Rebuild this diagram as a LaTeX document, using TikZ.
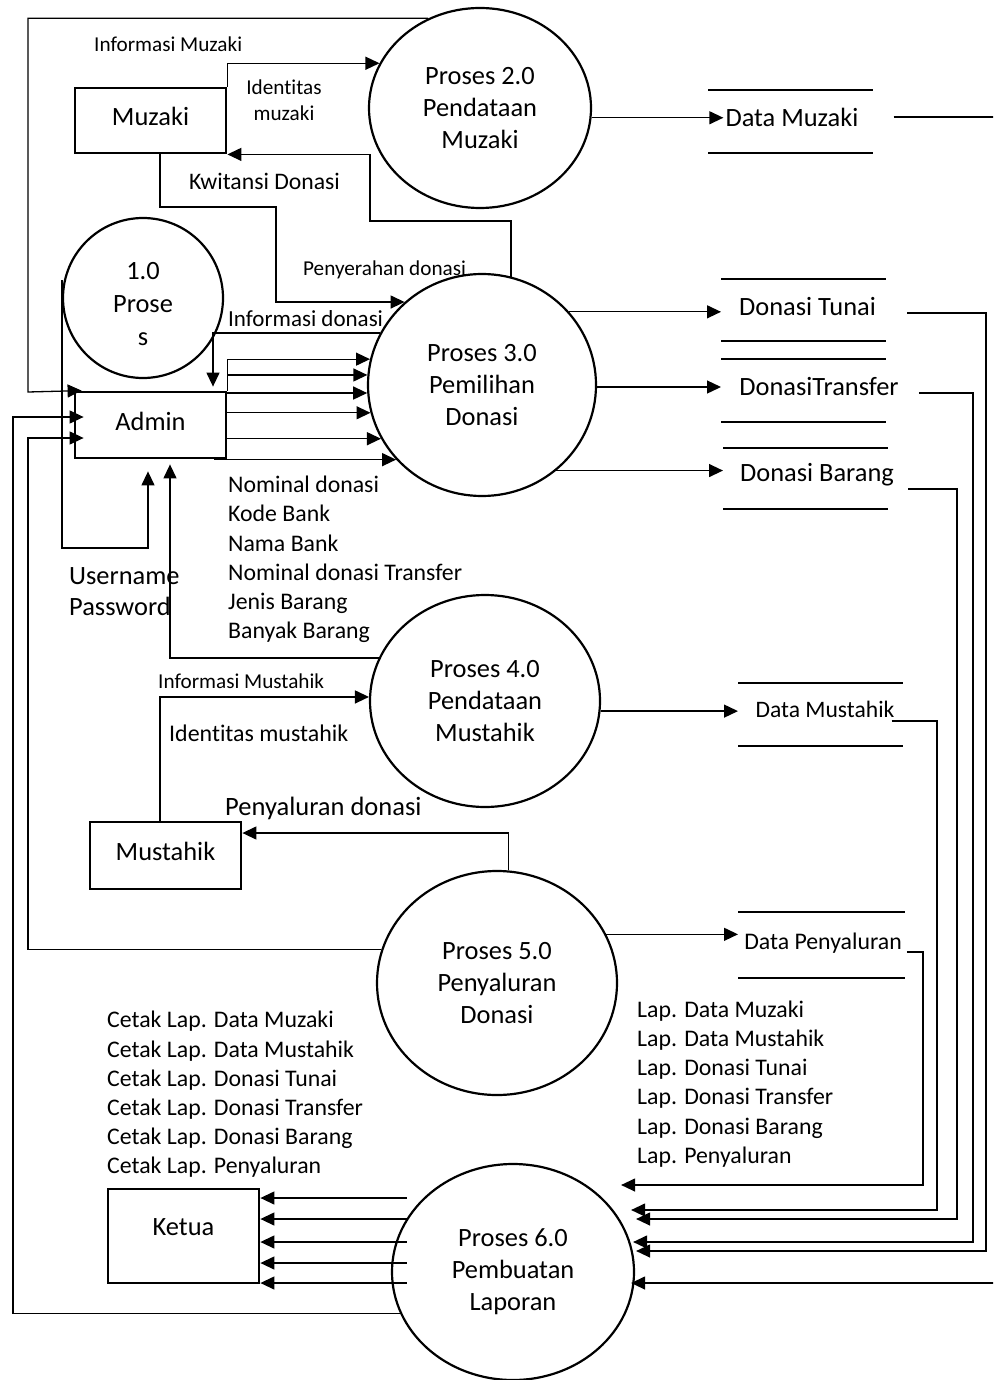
\documentclass[tikz,border=0pt]{standalone}
\usepackage{fontspec}
\setmainfont{Carlito}[Ligatures={NoCommon}]
\usetikzlibrary{shapes.geometric,arrows.meta}
\newcommand\myfs[2]{\fontsize{#1}{#2}\selectfont}
\begin{document}
\begin{tikzpicture}[x=1pt,y=-1pt,
  proc/.style={ellipse, draw, line width=2.2pt, inner sep=0pt, align=center, font=\myfs{26.4}{32}},
  ent/.style={rectangle, draw, line width=2.8pt, minimum width=151pt, inner sep=0pt, text height=18pt, text depth=8pt, font=\myfs{26.4}{32}},
  store/.style={draw=none, minimum width=165pt, minimum height=63pt, inner sep=0pt, outer sep=0pt},
  stxt/.style={inner sep=2pt, font=\myfs{26.4}{32}},
  sline/.style={line width=1.3pt},
  flow/.style={line width=1.3pt, -{Triangle[length=14pt,width=13pt]}},
  lbl/.style={inner sep=0pt, anchor=west, align=left}
]
\useasboundingbox (0,0) rectangle (993,1380);
\clip (0,0) rectangle (993,1380);

% processes
\node[proc, minimum width=222pt, minimum height=200pt] (p2) at (480,108) {Proses 2.0\\Pendataan\\Muzaki};
\node[proc, minimum width=160pt, minimum height=160pt] (p1) at (143,298) {};
\node[inner sep=0pt, align=center, font=\myfs{26.4}{33}] (p1t) at (143,304) {1.0\\Prose\\s};
\node[proc, minimum width=228pt, minimum height=222pt] (p3) at (482,385) {Proses 3.0\\Pemilihan\\Donasi};
\node[proc, minimum width=230pt, minimum height=212pt] (p4) at (485,701) {Proses 4.0\\Pendataan\\Mustahik};
\node[proc, minimum width=240pt, minimum height=224pt] (p5) at (497,983) {Proses 5.0\\Penyaluran\\Donasi};
\node[proc, minimum width=242pt, minimum height=216pt] (p6) at (513,1272) {Proses 6.0\\Pembuatan\\Laporan};

% entities
\node[ent, minimum height=65pt] (muzaki) at (150.5,120.5) {Muzaki};
\node[ent, minimum height=66pt] (admin) at (150.5,425) {Admin};
\node[ent, minimum height=67pt] (mustahik) at (165.5,855.5) {Mustahik};
\node[ent, minimum height=94pt, text depth=20pt] (ketua) at (183.5,1236) {Ketua};

% data stores
\node[store] (dmz) at (790.5,121.5) {};
\node[stxt] (dmzt) at (792,117) {Data Muzaki};
\node[store, minimum height=62pt] (dtu) at (803.5,310) {};
\node[stxt] (dtut) at (807.5,307) {Donasi Tunai};
\node[store] (dtr) at (803.5,390.5) {};
\node[stxt] (dtrt) at (819,387) {DonasiTransfer};
\node[store, minimum height=61pt] (dba) at (805.5,478.5) {};
\node[stxt] (dbat) at (817,475) {Donasi Barang};
\node[store] (dmu) at (820.5,714.5) {};
\node[stxt, font=\myfs{23.6}{29}] (dmut) at (825,709) {Data Mustahik};
\node[store, minimum width=167pt, minimum height=66pt] (dpe) at (821.5,945) {};
\node[stxt, font=\myfs{23.8}{29}] (dpet) at (823,943) {Data Penyaluran};
\foreach \s in {dmz,dtu,dtr,dba,dmu,dpe}
  \draw[sline] (\s.north west) -- (\s.north east) (\s.south west) -- (\s.south east);

% labels
\node[lbl, font=\myfs{21.2}{26}] (linfmz) at (94,44) {Informasi Muzaki};
\node[lbl, font=\myfs{21.2}{26}, align=center, anchor=center] (lidmz) at (284,100) {Identitas\\muzaki};
\node[lbl, font=\myfs{23.7}{29}] (lkwit) at (189,181) {Kwitansi Donasi};
\node[lbl, font=\myfs{21.2}{26}] (lpeny) at (303,270) {Penyerahan donasi};
\node[lbl, font=\myfs{23}{28}] (linfdon) at (228,319) {Informasi donasi};
\node[lbl, font=\myfs{23.8}{29.2}] (lnom) at (228,559.5) {Nominal donasi\\Kode Bank\\Nama Bank\\Nominal donasi Transfer\\Jenis Barang\\Banyak Barang};
\node[lbl, font=\myfs{26.4}{31}] (luser) at (69,591.5) {Username\\Password};
\node[lbl, font=\myfs{21.2}{26}] (linfmu) at (158,681) {Informasi Mustahik};
\node[lbl, font=\myfs{23.9}{29}] (lidmu) at (169,733) {Identitas mustahik};
\node[lbl, font=\myfs{26.5}{32}] (lsal) at (225,808) {Penyaluran donasi};
\node[lbl, font=\myfs{23.8}{29.2}] (lcetak) at (107,1094.5) {Cetak Lap. Data Muzaki\\Cetak Lap. Data Mustahik\\Cetak Lap. Donasi Tunai\\Cetak Lap. Donasi Transfer\\Cetak Lap. Donasi Barang\\Cetak Lap. Penyaluran};
\node[lbl, font=\myfs{23.8}{29.2}] (llap) at (637,1084) {Lap. Data Muzaki\\Lap. Data Mustahik\\Lap. Donasi Tunai\\Lap. Donasi Transfer\\Lap. Donasi Barang\\Lap. Penyaluran};

% Muzaki flows
\draw[flow] (p2.120) -| (28,392) -- ([xshift=8pt]admin.north west);
\draw[flow] (muzaki.north east) |- (p2.156);
\draw[flow] (p3.75) |- (370,221) |- (muzaki.south east);
\draw[flow] ([xshift=9.5pt]muzaki.south) |- (276,207) |- (p3.133);

% Admin flows
\draw[flow] ([yshift=18pt]p1.west) |- (148,548) -- ([xshift=-2.5pt,yshift=-12pt]admin.south);
\draw[flow] (p4.158) -| ([xshift=19.5pt,yshift=-5pt]admin.south);
\draw[flow] (p3.153) -| ([xshift=62.5pt,yshift=4pt]admin.north);
\draw[flow] (admin.north east) |- (p3.167);
\draw[flow] (p3.175 -| admin.east) -- (p3.175);
\draw[flow] (p3.184 -| admin.east) -- (p3.184);
\draw[flow] (p3.194 -| admin.east) -- (p3.194);
\draw[flow] (p3.208 -| admin.east) -- (p3.208);
\draw[flow] (p3.221 -| admin.east) ++(-13,0) -- (p3.221);
\draw[flow] (p5.164) -| (28,438) -- ([xshift=10pt,yshift=-13pt]admin.west);
\draw[flow] (p6.200) -| (13,417) -- ([xshift=10pt,yshift=8pt]admin.west);

% Mustahik flows
\draw[flow] ([xshift=-5.5pt]mustahik.north) |- (p4.178);
\draw[flow] (p5.84) |- ([yshift=22.5pt]mustahik.east);

% to data stores
\draw[flow] (p2.-5) -- (p2.-5 -| dmzt.west);
\draw[flow] (p3.40) -- (p3.40 -| dtu.west);
\draw[flow] (p3.-1) -- (p3.-1 -| dtr.west);
\draw[flow] (p3.-49) -- (p3.-49 -| dba.west);
\draw[flow] (p4.-5) -- (p4.-5 -| dmu.west);
\draw[flow] (p5.24) -- (p5.24 -| dpe.west);

% data stores to Proses 6.0
\draw[flow] ([xshift=33pt]dmzt.east) -- ++(115,0) |- ([xshift=-4pt,yshift=-11pt]p6.east);
\draw[flow] ([xshift=29pt,yshift=-6pt]dtut.east) -| (986,1251) -- ([xshift=1pt,yshift=21pt]p6.east);
\draw[flow] ([xshift=18pt,yshift=-6pt]dtrt.east) -| (973,1242) -- ([xshift=-2pt,yshift=30pt]p6.east);
\draw[flow] ([xshift=12pt,yshift=-14pt]dbat.east) -| (957,1219) -- ([xshift=1pt,yshift=53pt]p6.east);
\draw[flow] ([xshift=-5pt,yshift=-12pt]dmut.east) -| (937,1210) -- ([xshift=-4pt,yshift=62pt]p6.east);
\draw[flow] ([xshift=3pt,yshift=-9pt]dpet.east) -| (923,1185) -- ([xshift=-14pt,yshift=87pt]p6.east);

% Proses 6.0 to Ketua
\foreach \yy in {1198,1219,1242,1263,1283}
  \draw[flow] ([xshift=16pt,yshift={(1272-\yy)*1pt}]p6.west) -- ([yshift={(1236-\yy)*1pt}]ketua.east);
\end{tikzpicture}
\end{document}
